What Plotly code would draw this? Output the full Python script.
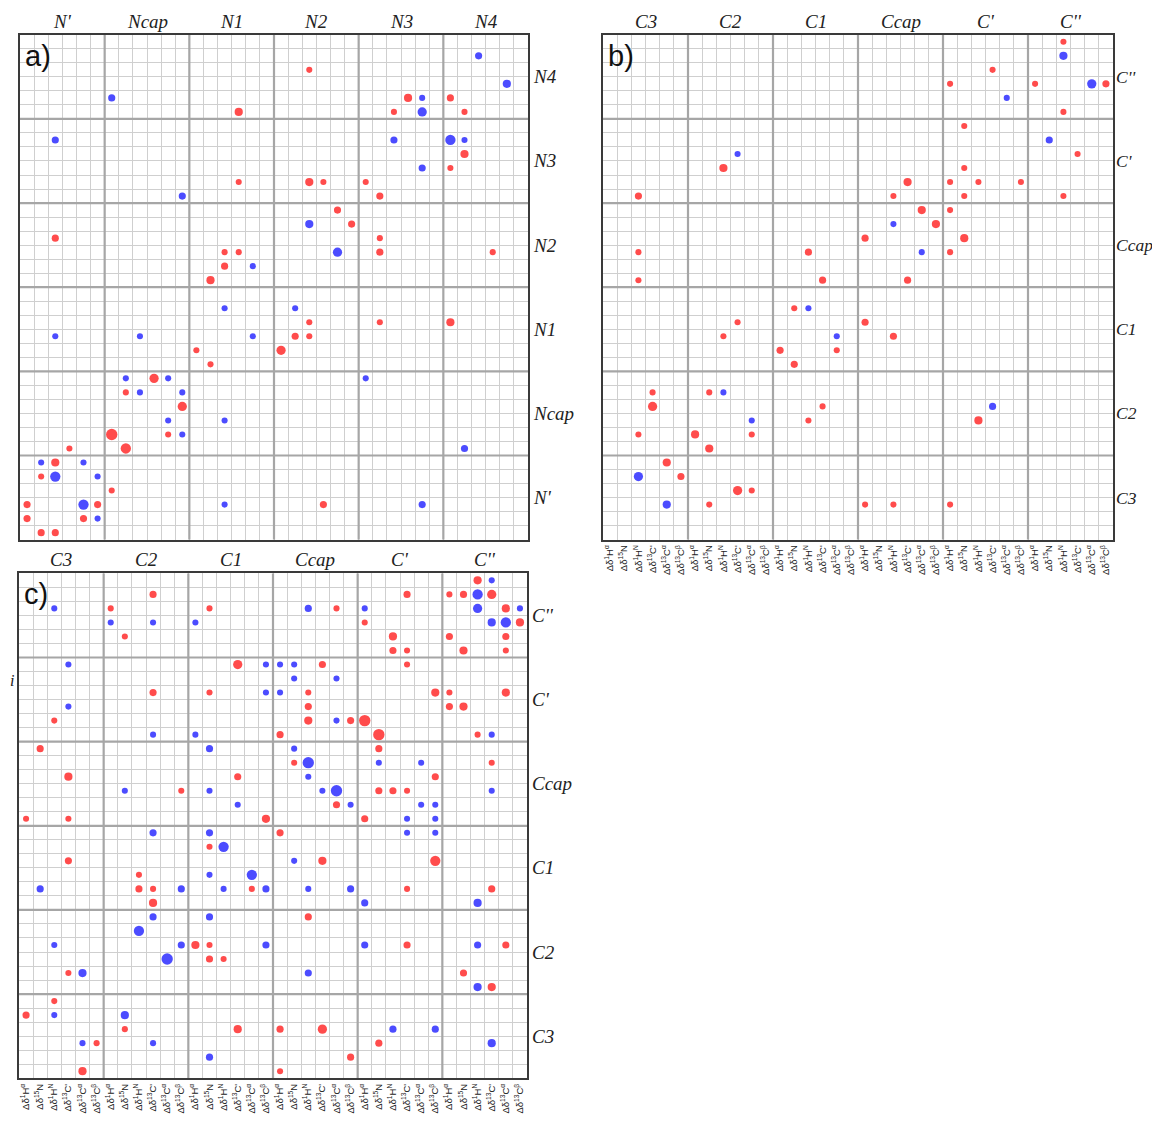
import plotly.graph_objects as go

# page is rendered with an 8px body margin, so the figure is offset by that margin
PAGE_W, PAGE_H, OFF = 1160, 1122, 8
W, H = PAGE_W - 2 * OFF, PAGE_H - 2 * OFF

# ---------------- categories / labels ----------------
a_col_groups = ["N'", "Ncap", "N1", "N2", "N3", "N4"]
a_row_groups = ["N4", "N3", "N2", "N1", "Ncap", "N'"]
bc_col_groups = ["C3", "C2", "C1", "Ccap", "C'", "C''"]
bc_row_groups = ["C''", "C'", "Ccap", "C1", "C2", "C3"]
sub_labels = ["Δδ<sup>1</sup>H<sup>α</sup>", "Δδ<sup>15</sup>N", "Δδ<sup>1</sup>H<sup>N</sup>",
              "Δδ<sup>13</sup>C'", "Δδ<sup>13</sup>C<sup>α</sup>", "Δδ<sup>13</sup>C<sup>β</sup>"]

# ---------------- data: (row index, column index, signed magnitude) ----------------
# positive = red, negative = blue
a_points = [
    (1, 32, -1.5), (2, 20, 1), (3, 34, -2), (4, 6, -1.5), (4, 27, 2), (4, 28, -1), (4, 30, 1.5),
    (5, 15, 2), (5, 26, 1), (5, 28, -2.5), (5, 31, 1), (7, 2, -1.5), (7, 26, -1.5), (7, 30, -3),
    (7, 31, -1), (8, 31, 2), (9, 28, -1.5), (9, 30, 1), (10, 15, 1), (10, 20, 2), (10, 21, 1),
    (10, 24, 1), (11, 11, -1.5), (11, 25, 1.5), (12, 22, 1.5), (13, 20, -2), (13, 23, 1.5),
    (14, 2, 1.5), (14, 25, 1), (15, 14, 1), (15, 15, 1), (15, 22, -2.5), (15, 25, 1.5), (15, 33, 1),
    (16, 14, 1.5), (16, 16, -1), (17, 13, 2), (19, 14, -1), (19, 19, -1), (20, 20, 1), (20, 25, 1),
    (20, 30, 2), (21, 2, -1), (21, 8, -1), (21, 16, -1), (21, 19, 1.5), (21, 20, 1), (22, 12, 1),
    (22, 18, 2.5), (23, 13, 1), (24, 7, -1), (24, 9, 2.5), (24, 10, -1), (24, 24, -1), (25, 7, 1),
    (25, 8, -1), (25, 11, -1), (26, 11, 2.5), (27, 10, -1), (27, 14, -1), (28, 6, 3.5), (28, 10, 1),
    (28, 11, -1), (29, 3, 1), (29, 7, 3), (29, 31, -1.5), (30, 1, -1), (30, 2, 2), (30, 4, -1),
    (31, 1, 1), (31, 2, -3), (31, 5, -1), (32, 6, 1), (33, 0, 1.5), (33, 4, -3), (33, 5, 1.5),
    (33, 14, -1), (33, 21, 1.5), (33, 28, -1.5), (34, 0, 1.5), (34, 4, 1.5), (34, 5, -1),
    (35, 1, 1.5), (35, 2, 1.5),
]

b_points = [
    (0, 32, 1), (1, 32, -2), (2, 27, 1), (3, 24, 1), (3, 30, 1), (3, 34, -2.5), (3, 35, 1.5),
    (4, 28, -1), (5, 32, 1), (6, 25, 1), (7, 31, -1.5), (8, 9, -1), (8, 33, 1), (9, 8, 2),
    (9, 25, 1), (10, 21, 2), (10, 24, 1), (10, 26, 1), (10, 29, 1), (11, 2, 1.5), (11, 20, 1),
    (11, 25, 1), (11, 32, 1), (12, 22, 2), (12, 24, 1), (13, 20, -1), (13, 23, 2), (14, 18, 1.5),
    (14, 25, 2), (15, 2, 1), (15, 14, 1.5), (15, 22, -1), (15, 24, 1), (17, 2, 1), (17, 15, 1.5),
    (17, 21, 1.5), (19, 13, 1), (19, 14, -1), (20, 9, 1), (20, 18, 1.5), (21, 8, 1), (21, 16, -1),
    (21, 20, 1.5), (22, 12, 1.5), (22, 16, 1), (23, 13, 1.5), (25, 3, 1), (25, 7, 1), (25, 8, -1),
    (26, 3, 2.5), (26, 15, 1), (26, 27, -1.5), (27, 10, -1), (27, 14, 1), (27, 26, 2), (28, 2, 1),
    (28, 6, 2), (28, 10, 1), (29, 7, 2), (30, 4, 2), (31, 2, -2.5), (31, 5, 1.5), (32, 9, 2.5),
    (32, 10, 1), (33, 4, -2), (33, 7, 1), (33, 18, 1), (33, 20, 1), (33, 24, 1),
]

c_points = [
    (0, 32, 2), (0, 33, -1), (1, 9, 1.5), (1, 27, 1.5), (1, 30, 1), (1, 31, 1.5), (1, 32, -3),
    (1, 33, 2.5), (2, 2, -1), (2, 6, 1), (2, 13, 1), (2, 20, -1.5), (2, 22, 1), (2, 24, -1),
    (2, 32, -2.5), (2, 34, 2), (2, 35, -1), (3, 6, -1), (3, 9, -1), (3, 12, -1), (3, 24, 1),
    (3, 33, -2), (3, 34, -3), (3, 35, 2), (4, 7, 1), (4, 26, 2), (4, 30, 1.5), (4, 34, 1.5),
    (5, 26, 1.5), (5, 27, 1), (5, 31, 2), (5, 34, 1), (6, 3, -1), (6, 15, 2.5), (6, 17, -1),
    (6, 18, -1), (6, 19, -1), (6, 21, 1.5), (6, 27, 1), (7, 19, -1), (7, 22, -1), (8, 9, 1.5),
    (8, 13, 1), (8, 17, -1), (8, 18, -1), (8, 20, 1), (8, 29, 2), (8, 30, 1), (8, 34, 2),
    (9, 3, -1), (9, 20, 1.5), (9, 30, 1.5), (9, 31, 2), (10, 2, 1), (10, 20, 2), (10, 22, -1),
    (10, 23, 1.5), (10, 24, 3.5), (11, 9, -1), (11, 12, -1), (11, 18, 1.5), (11, 25, 3.5),
    (11, 32, 1), (11, 33, -1), (12, 1, 1.5), (12, 13, -1.5), (12, 19, -1), (12, 25, 1.5),
    (13, 19, 1), (13, 20, -3.5), (13, 25, -1), (13, 28, -1), (13, 33, 1), (14, 3, 2), (14, 15, 1.5),
    (14, 20, -1), (14, 29, 1.5), (15, 7, -1), (15, 11, 1), (15, 13, -1), (15, 21, -1), (15, 22, -3.5),
    (15, 25, 1.5), (15, 26, 1.5), (15, 27, 1), (15, 33, -1), (16, 15, -1), (16, 22, 1.5), (16, 23, -1),
    (16, 28, -1), (16, 29, -1), (17, 0, 1), (17, 3, 1), (17, 17, 2), (17, 24, 1.5), (17, 27, -1),
    (17, 29, -1),
    (18, 9, -1.5), (18, 13, -1.5), (18, 18, 1.5), (18, 27, -1), (18, 29, -1), (19, 13, 1), (19, 14, -3),
    (20, 3, 1.5), (20, 19, -1), (20, 21, 2), (20, 29, 3), (21, 8, 1), (21, 13, -1), (21, 16, -3),
    (22, 1, -1.5), (22, 8, 1.5), (22, 9, 1), (22, 11, -1.5), (22, 14, -1), (22, 16, 1), (22, 17, -1.5),
    (22, 20, -1), (22, 23, -1.5), (22, 27, 1), (22, 33, 1.5), (23, 9, 2), (23, 24, -1.5), (23, 32, -2),
    (24, 9, -1.5), (24, 13, -1.5), (24, 20, 1.5), (25, 8, -3), (26, 2, -1), (26, 11, -1.5), (26, 12, 2),
    (26, 13, 1), (26, 17, -1.5), (26, 24, -1.5), (26, 27, 1.5), (26, 32, -1.5), (26, 34, 1.5),
    (27, 10, -3.5), (27, 13, 1.5), (27, 14, 1), (28, 3, 1), (28, 4, -2), (28, 20, -1.5), (28, 31, 1.5),
    (29, 32, -2), (29, 33, 2), (30, 2, 1), (31, 0, 1.5), (31, 2, -1), (31, 7, -2), (32, 7, 1),
    (32, 15, 2), (32, 18, 1.5), (32, 21, 2.5), (32, 26, -1.5), (32, 29, -1.5), (33, 4, -1), (33, 5, 1),
    (33, 9, -1), (33, 25, 1.5), (33, 33, -2), (34, 13, -1.5), (34, 23, 1.5), (35, 4, 2), (35, 18, 1),
]

# ---------------- styling ----------------
RED, BLUE = "#ff0000", "#0000ff"
MINOR_GRID, MAJOR_GRID, FRAME = "#cfcfcf", "#a6a6a6", "#3a3a3a"
SERIF, SANS = "Liberation Serif", "Liberation Sans"
NG, NS = 6, 6
N = NG * NS


def fx(px):
    return (px - OFF) / W


def fy(py):
    return 1 - (py - OFF) / H


panels = [
    dict(letter="a)", pts=a_points, xg=a_col_groups, yg=a_row_groups,
         px=(20, 528), py=(35, 544), bottom=False, rsize=19, rshift=3),
    dict(letter="b)", pts=b_points, xg=bc_col_groups, yg=bc_row_groups,
         px=(603, 1113), py=(35, 544), bottom=True, rsize=17.5, rshift=1),
    dict(letter="c)", pts=c_points, xg=bc_col_groups, yg=bc_row_groups,
         px=(19, 527), py=(578, 1087), bottom=True, rsize=19, rshift=3),
]

fig = go.Figure()
shapes, annotations = [], []

for k, p in enumerate(panels):
    sfx = "" if k == 0 else str(k + 1)
    xa, ya = "x" + sfx, "y" + sfx
    rows = [r for r, c, v in p["pts"]]
    cols = [c for r, c, v in p["pts"]]
    vals = [v for r, c, v in p["pts"]]
    fig.add_trace(go.Scatter(
        x=[c + 0.5 for c in cols], y=[r + 0.5 for r in rows], mode="markers",
        marker=dict(color=[RED if v > 0 else BLUE for v in vals],
                    size=[4.0 + 2.1 * abs(v) for v in vals], line=dict(width=0)),
        xaxis=xa, yaxis=ya, hoverinfo="skip", showlegend=False))

    x0, x1 = p["px"]
    y0, y1 = p["py"]
    xaxis = dict(domain=[fx(x0), fx(x1)], range=[0, N], anchor=ya, showgrid=False, zeroline=False,
                 showline=True, mirror=True, linecolor=FRAME, linewidth=1.6,
                 tickmode="array", tickvals=[i + 0.5 for i in range(N)],
                 ticktext=sub_labels * NG, tickangle=-90, ticks="",
                 tickfont=dict(family=SANS, size=9.5, color="#222"),
                 showticklabels=p["bottom"], fixedrange=True,
                 minor=dict(tickmode="array", tickvals=list(range(N + 1)), showgrid=True,
                            gridcolor=MINOR_GRID, gridwidth=1.3, ticks=""))
    yaxis = dict(domain=[fy(y1), fy(y0)], range=[N, 0], anchor=xa, showgrid=False,
                 zeroline=False, showline=True, mirror=True, linecolor=FRAME, linewidth=1.6,
                 showticklabels=False, ticks="", fixedrange=True,
                 minor=dict(tickmode="array", tickvals=list(range(N + 1)), showgrid=True,
                            gridcolor=MINOR_GRID, gridwidth=1.3, ticks=""))
    fig.layout["xaxis" + sfx] = xaxis
    fig.layout["yaxis" + sfx] = yaxis

    for g in range(1, NG):
        shapes.append(dict(type="line", xref=xa, yref=ya, x0=g * NS, x1=g * NS, y0=0, y1=N,
                           line=dict(color=MAJOR_GRID, width=2.2), layer="between"))
        shapes.append(dict(type="line", xref=xa, yref=ya, x0=0, x1=N, y0=g * NS, y1=g * NS,
                           line=dict(color=MAJOR_GRID, width=2.2), layer="between"))

    for gi, name in enumerate(p["xg"]):
        annotations.append(dict(text="<i>" + name + "</i>", xref=xa, yref=ya + " domain",
                                x=gi * NS + NS / 2, y=1, xanchor="center", yanchor="bottom",
                                yshift=1, showarrow=False,
                                font=dict(family=SERIF, size=19, color="#222")))
    for gi, name in enumerate(p["yg"]):
        annotations.append(dict(text="<i>" + name + "</i>", xref=xa + " domain", yref=ya,
                                x=1, y=gi * NS + NS / 2, xanchor="left", yanchor="middle",
                                xshift=p["rshift"], showarrow=False,
                                font=dict(family=SERIF, size=p["rsize"], color="#222")))
    annotations.append(dict(text=p["letter"], xref=xa + " domain", yref=ya + " domain",
                            x=0, y=1, xanchor="left", yanchor="top", xshift=3, yshift=-3,
                            showarrow=False, font=dict(family=SANS, size=29, color="#111")))

annotations.append(dict(text="<i>i</i>", xref="paper", yref="paper", x=0, y=fy(686),
                        xanchor="left", yanchor="middle", showarrow=False,
                        font=dict(family=SERIF, size=16, color="#222")))

fig.update_layout(width=W, height=H, autosize=False, margin=dict(l=0, r=0, t=0, b=0),
                  paper_bgcolor="white", plot_bgcolor="white",
                  shapes=shapes, annotations=annotations)

fig.write_html("out.html")
